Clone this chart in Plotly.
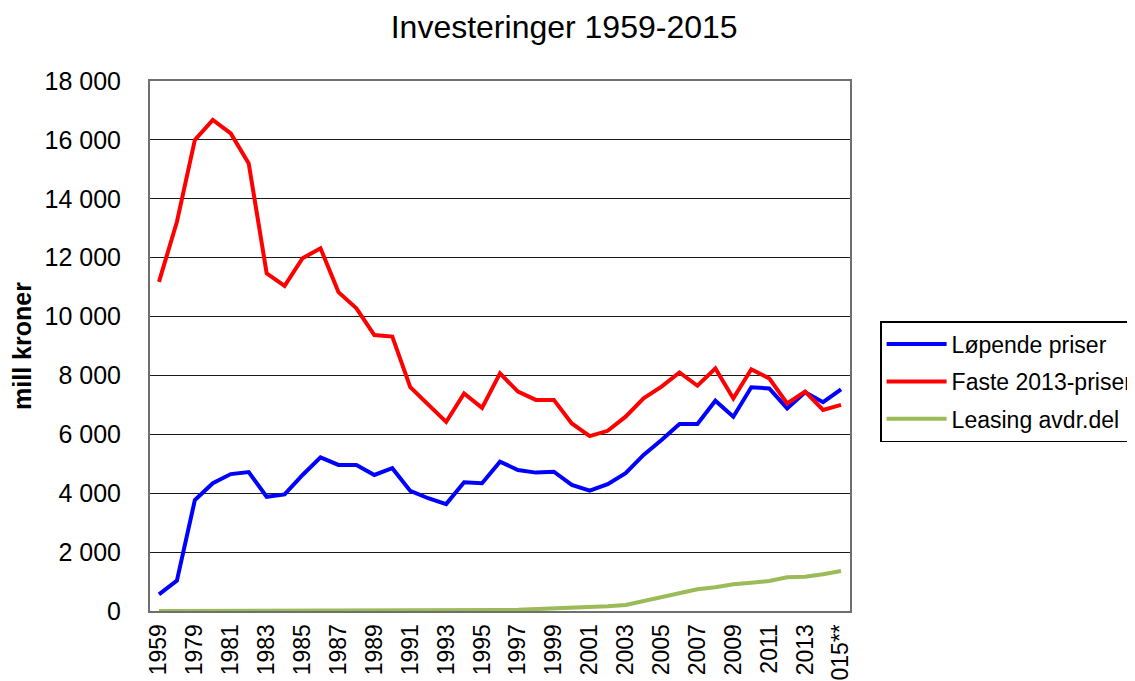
import plotly.graph_objects as go

years = ["1959", "1969"] + [str(y) for y in range(1979, 2015)] + ["2015**"]

lopende = [567, 1030, 3770, 4340, 4650, 4720, 3880, 3960, 4620, 5220, 4960, 4960,
           4620, 4850, 4080, 3830, 3630, 4370, 4340, 5070, 4790, 4700, 4730, 4280,
           4090, 4310, 4680, 5300, 5810, 6350, 6350, 7140, 6600, 7600, 7560, 6880,
           7430, 7090, 7530]

faste = [11180, 13220, 16000, 16680, 16220, 15200, 11470, 11040, 11980, 12320,
         10830, 10280, 9370, 9320, 7600, 7000, 6420, 7390, 6900, 8070, 7450, 7170,
         7170, 6370, 5940, 6120, 6600, 7220, 7620, 8100, 7650, 8240, 7220, 8210,
         7900, 7050, 7450, 6830, 7000]

leasing = [0] * 18 + [20, 30, 40, 60, 80, 90, 120, 160, 204, 340, 486, 622, 736,
                      804, 906, 962, 1019, 1144, 1166, 1246, 1360]

tick_labels = years[::2]

FONT = "Liberation Sans, Arial, sans-serif"

fig = go.Figure()
series = [
    ("Løpende priser", lopende, "#0000FF"),
    ("Faste 2013-priser", faste, "#FF0000"),
    ("Leasing avdr.del", leasing, "#9BBB59"),
]
for i, (name, vals, col) in enumerate(series):
    fig.add_trace(go.Scatter(
        x=years, y=vals, name=name, mode="lines",
        line=dict(color=col, width=4), legendgroup=f"g{i}",
    ))

fig.update_layout(
    width=1135, height=681,
    margin=dict(l=142, r=293, t=73, b=78, autoexpand=False),
    paper_bgcolor="white", plot_bgcolor="white",
    font=dict(family=FONT, color="#000000"),
    separators=", ",
    title=dict(text="Investeringer 1959-2015", x=0.49, xanchor="center",
               y=0.973, yanchor="middle", automargin=False,
               font=dict(size=32, family=FONT, color="#000000")),
    showlegend=True,
    legend=dict(x=1.043, xanchor="left", y=0.547, yanchor="top",
                bordercolor="#000000", borderwidth=1.5,
                font=dict(size=23, family=FONT),
                traceorder="grouped", tracegroupgap=4.5,
                itemwidth=60,
                bgcolor="white"),
)

fig.update_xaxes(
    type="category", categoryorder="array", categoryarray=years,
    range=[-0.5, len(years) - 0.5],
    tickmode="array", tickvals=tick_labels, ticktext=tick_labels,
    tickangle=-90, tickfont=dict(size=23, family=FONT),
    showgrid=False, showline=True, linecolor="#6f6f6f", linewidth=2,
    mirror=True, ticks="", layer="below traces", ticklabelstandoff=2,
    automargin=False,
)
fig.update_yaxes(
    range=[0, 18000], dtick=2000, tickformat=",d",
    tickfont=dict(size=25, family=FONT),
    showgrid=True, gridcolor="#1a1a1a", gridwidth=1,
    showline=True, linecolor="#6f6f6f", linewidth=2, mirror=True,
    zeroline=False, ticks="", layer="below traces", ticklabelstandoff=22,
    automargin=False,
    title=dict(text="<b>mill kroner</b>", font=dict(size=25, family=FONT),
               standoff=18),
)

fig.write_html("out.html")
